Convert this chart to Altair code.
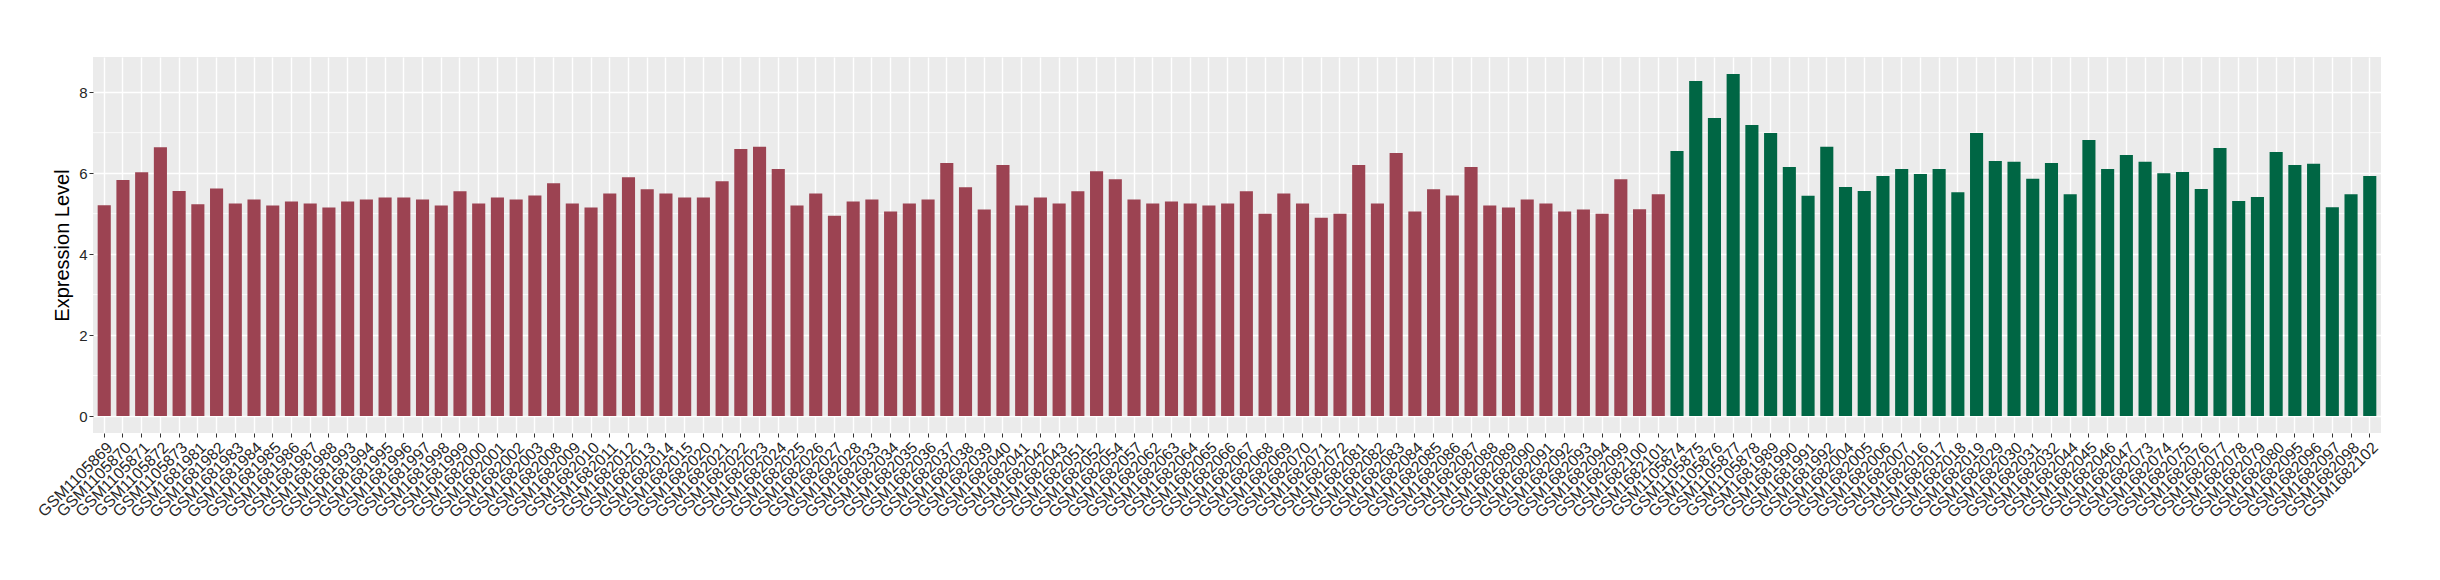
import altair as alt
import pandas as pd

red_samples = [
    "GSM1105869", "GSM1105870", "GSM1105871", "GSM1105872", "GSM1105873",
    "GSM1681981", "GSM1681982", "GSM1681983", "GSM1681984", "GSM1681985",
    "GSM1681986", "GSM1681987", "GSM1681988", "GSM1681993", "GSM1681994",
    "GSM1681995", "GSM1681996", "GSM1681997", "GSM1681998", "GSM1681999",
    "GSM1682000", "GSM1682001", "GSM1682002", "GSM1682003", "GSM1682008",
    "GSM1682009", "GSM1682010", "GSM1682011", "GSM1682012", "GSM1682013",
    "GSM1682014", "GSM1682015", "GSM1682020", "GSM1682021", "GSM1682022",
    "GSM1682023", "GSM1682024", "GSM1682025", "GSM1682026", "GSM1682027",
    "GSM1682028", "GSM1682033", "GSM1682034", "GSM1682035", "GSM1682036",
    "GSM1682037", "GSM1682038", "GSM1682039", "GSM1682040", "GSM1682041",
    "GSM1682042", "GSM1682043", "GSM1682051", "GSM1682052", "GSM1682054",
    "GSM1682057", "GSM1682062", "GSM1682063", "GSM1682064", "GSM1682065",
    "GSM1682066", "GSM1682067", "GSM1682068", "GSM1682069", "GSM1682070",
    "GSM1682071", "GSM1682072", "GSM1682081", "GSM1682082", "GSM1682083",
    "GSM1682084", "GSM1682085", "GSM1682086", "GSM1682087", "GSM1682088",
    "GSM1682089", "GSM1682090", "GSM1682091", "GSM1682092", "GSM1682093",
    "GSM1682094", "GSM1682099", "GSM1682100", "GSM1682101",
]
red_values = [
    5.21, 5.83, 6.02, 6.64, 5.56, 5.23, 5.62, 5.25, 5.35, 5.20,
    5.30, 5.25, 5.15, 5.30, 5.35, 5.40, 5.40, 5.35, 5.20, 5.55,
    5.25, 5.40, 5.35, 5.45, 5.75, 5.25, 5.15, 5.50, 5.90, 5.60,
    5.50, 5.40, 5.40, 5.80, 6.60, 6.65, 6.10, 5.20, 5.50, 4.95,
    5.30, 5.35, 5.05, 5.25, 5.35, 6.25, 5.65, 5.10, 6.20, 5.20,
    5.40, 5.25, 5.55, 6.05, 5.85, 5.35, 5.25, 5.30, 5.25, 5.20,
    5.25, 5.55, 5.00, 5.50, 5.25, 4.90, 5.00, 6.20, 5.25, 6.50,
    5.05, 5.60, 5.45, 6.15, 5.20, 5.15, 5.35, 5.25, 5.05, 5.10,
    5.00, 5.85, 5.11, 5.48,
]
green_samples = [
    "GSM1105874", "GSM1105875", "GSM1105876", "GSM1105877", "GSM1105878",
    "GSM1681989", "GSM1681990", "GSM1681991", "GSM1681992", "GSM1682004",
    "GSM1682005", "GSM1682006", "GSM1682007", "GSM1682016", "GSM1682017",
    "GSM1682018", "GSM1682019", "GSM1682029", "GSM1682030", "GSM1682031",
    "GSM1682032", "GSM1682044", "GSM1682045", "GSM1682046", "GSM1682047",
    "GSM1682073", "GSM1682074", "GSM1682075", "GSM1682076", "GSM1682077",
    "GSM1682078", "GSM1682079", "GSM1682080", "GSM1682095", "GSM1682096",
    "GSM1682097", "GSM1682098", "GSM1682102",
]
green_values = [
    6.55, 8.28, 7.36, 8.45, 7.19, 6.99, 6.15, 5.44, 6.65, 5.66,
    5.56, 5.93, 6.10, 5.98, 6.10, 5.53, 6.99, 6.30, 6.28, 5.86,
    6.25, 5.48, 6.82, 6.10, 6.45, 6.28, 6.00, 6.03, 5.61, 6.62,
    5.31, 5.41, 6.52, 6.20, 6.23, 5.16, 5.48, 5.93,
]
groups = ["A", "B"]
group_colors = ["#9C4352", "#006644"]
major_ticks = [0, 2, 4, 6, 8]
minor_ticks = [1, 3, 5, 7]
y_domain = [-0.42, 8.87]

samples = red_samples + green_samples
df = pd.DataFrame({
    "sample": samples,
    "value": red_values + green_values,
    "group": [groups[0]] * len(red_samples) + [groups[1]] * len(green_samples),
})
minor_df = pd.DataFrame({"value": minor_ticks})

W, H = 2288, 376
FONT = "Liberation Sans"
LABEL_COLOR = "#262626"

yscale = alt.Scale(domain=y_domain, nice=False, zero=False)
yaxis = alt.Axis(
    title="Expression Level",
    values=major_ticks,
    titleFontSize=20,
    titleFont=FONT,
    titleFontWeight="normal",
    titleColor="black",
    titlePadding=6,
    labelFontSize=15,
    labelColor=LABEL_COLOR,
    labelPadding=2,
    tickSize=4,
    tickColor="#333333",
    grid=True,
    gridColor="white",
    gridWidth=1.5,
    domain=False,
)

minor = alt.Chart(minor_df).mark_rule(color="white", strokeWidth=0.8).encode(
    y=alt.Y("value:Q", scale=yscale, axis=yaxis)
)

bars = alt.Chart(df).mark_bar().encode(
    x=alt.X(
        "sample:N",
        sort=samples,
        scale=alt.Scale(paddingInner=0.3, paddingOuter=0.25),
        axis=alt.Axis(
            title=None,
            labelAngle=-45,
            labelAlign="right",
            labelBaseline="top",
            labelFontSize=16,
            labelColor=LABEL_COLOR,
            labelPadding=2,
            labelOverlap=False,
            tickSize=4,
            tickColor="#333333",
            tickWidth=1,
            bandPosition=0.5,
            grid=True,
            gridColor="white",
            gridWidth=1.4,
            domain=False,
        ),
    ),
    y=alt.Y("value:Q", scale=yscale, axis=yaxis),
    y2=alt.datum(0),
    color=alt.Color(
        "group:N",
        scale=alt.Scale(domain=groups, range=group_colors),
        legend=None,
    ),
)

chart = alt.layer(minor, bars).properties(
    width=W,
    height=H,
    autosize=alt.AutoSizeParams(type="none"),
    padding={"left": 85, "top": 49, "right": 40, "bottom": 140},
).configure(
    font=FONT,
    background="white",
).configure_view(
    fill="#EBEBEB",
    stroke=None,
).configure_axis(
    labelFont=FONT,
    titleFont=FONT,
)

chart.save("out.html", embed_options={"renderer": "svg", "actions": False})
